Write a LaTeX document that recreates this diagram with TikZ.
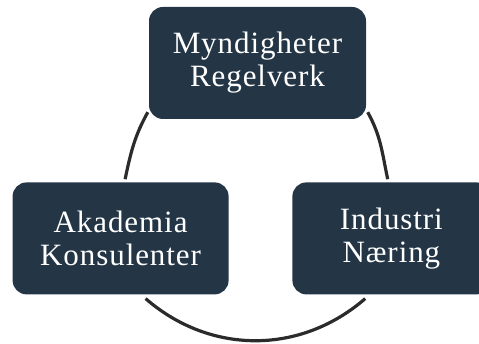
\documentclass[tikz,border=0pt]{standalone}
\usepackage{xcolor}
\usepackage{fontspec}
\setmainfont{Liberation Serif}[LetterSpace=3]
\usepackage{tikz}
\usetikzlibrary{positioning}
\definecolor{boxnavy}{HTML}{243646}
\definecolor{ringgray}{HTML}{2B2B2B}
\tikzstyle{box} = [draw=none, fill=boxnavy, rounded corners=14pt, text=white, align=center, minimum height=112pt, inner sep=0pt, font=\fontsize{31}{33}\selectfont]
\tikzstyle{ring} = [draw=ringgray, line width=3.2pt]

\begin{document}
\begin{tikzpicture}[x=1pt, y=1pt]
\useasboundingbox (0,0) rectangle (479,344);
% Boxes
\node (myn) [box, minimum width=217pt] at (257.5,281) {Myndigheter\\Regelverk};
\node (aka) [box, minimum width=216pt, below left=63pt and -80pt of myn] {Akademia\\Konsulenter};
\node (ind) [box, minimum width=198pt, below right=63pt and -74pt of myn] {Industri\\Næring};

% Cycle arcs
\draw [ring] ([xshift=-1pt,yshift=7pt]myn.south west) to[out=241, in=78] ([xshift=4.5pt,yshift=3pt]aka.north);
\draw [ring] ([xshift=1.5pt,yshift=7pt]myn.south east) to[out=-61, in=102] ([xshift=95.5pt,yshift=3pt]ind.north west);
\draw [ring] ([xshift=25pt,yshift=-4pt]aka.south) to[out=-41, in=221] ([xshift=73pt,yshift=-4pt]ind.south west);
\end{tikzpicture}
\end{document}
